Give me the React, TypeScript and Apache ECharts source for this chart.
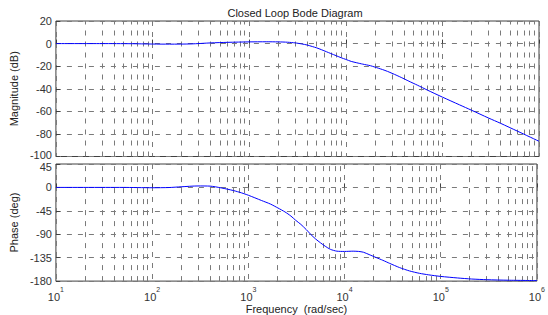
import React, { useEffect, useRef } from "react";
import * as echarts from "echarts";

const magFreq = [10, 30, 60, 100, 150, 250, 400, 600, 1000, 1500, 2000, 2500, 3000, 3500, 4000, 4500, 5000, 5600, 6300, 7000, 8000, 9000, 10000, 11400, 13000, 15000, 18000, 20000, 24000, 27000, 32000, 37500, 45000, 55000, 70000, 100000, 150000, 200000, 300000, 400000, 600000, 1000000];
const magDb = [0, 0, -0.1, -0.4, -0.5, -0.3, 0.6, 1.1, 1.5, 1.6, 1.5, 1.2, 0.6, -0.3, -1.3, -2.6, -3.8, -5.4, -7.2, -8.8, -10.8, -12.6, -14.0, -15.8, -17.0, -18.2, -19.6, -20.8, -23.0, -24.6, -27.3, -30.0, -33.3, -36.8, -41.2, -47.4, -54.2, -59.0, -65.9, -70.6, -77.6, -86.5];

const phFreq = [10, 50, 100, 150, 200, 300, 400, 525, 700, 850, 1000, 1365, 1700, 2030, 2400, 2770, 3100, 3515, 4000, 4440, 5000, 5630, 6300, 7140, 8330, 10000, 12300, 14000, 15700, 18000, 21500, 25000, 29500, 37300, 47400, 60000, 75000, 100000, 150000, 210000, 300000, 500000, 1000000];
const phDeg = [0, 0, -0.6, -0.2, 1.2, 2.8, 2.5, -1, -6, -10.5, -15, -25, -32, -39.5, -47, -55, -63, -71, -81, -90, -99, -106.5, -113, -119, -122.5, -123, -122.5, -123, -124.5, -129, -135, -140, -146, -154, -160.5, -165, -168, -171, -174, -176, -177.3, -178.3, -179];

const decades = [10, 100, 1000, 10000, 100000];
const minorMultipliers = [2, 3, 4, 5, 6, 7, 8, 9];

const FONT = "'Liberation Sans', Arial, Helvetica, sans-serif";
const GRID_COLOR = "#7a7a7a";
const DASH = [5, 6];

export default function App() {
  const ref = useRef<HTMLDivElement>(null);
  useEffect(() => {
    if (!ref.current) return;
    const chart = echarts.init(ref.current, undefined, { renderer: "svg" });
    const minorFreqs: number[] = [];
    decades.forEach((d) => minorMultipliers.forEach((m) => minorFreqs.push(d * m)));

    const markLine = {
      symbol: "none",
      silent: true,
      label: { show: false },
      lineStyle: { type: DASH, color: GRID_COLOR, width: 1 },
      data: minorFreqs.map((f) => ({ xAxis: f })),
      animation: false,
    };

    const xBase = {
      type: "log",
      logBase: 10,
      min: 10,
      max: 1000000,
      axisLine: { show: false },
      axisTick: { show: true, inside: true, length: 4, lineStyle: { color: "#404040" } },
      splitLine: { show: true, lineStyle: { type: DASH, color: GRID_COLOR, width: 1 } },
    };

    const labelStyle = { fontFamily: FONT, fontSize: 11, color: "#333" };

    const option: any = {
      animation: false,
      backgroundColor: "#ffffff",
      title: {
        text: "Closed Loop Bode Diagram",
        left: 295,
        top: 7,
        padding: 0,
        textAlign: "center",
        textStyle: { fontFamily: FONT, fontSize: 11, fontWeight: "normal", color: "#222" },
      },
      grid: [
        { left: 52, top: 21, width: 487, height: 135.5, show: true, borderColor: "#404040", borderWidth: 1, backgroundColor: "transparent" },
        { left: 52, top: 164, width: 487, height: 118, show: true, borderColor: "#404040", borderWidth: 1, backgroundColor: "transparent" },
      ],
      xAxis: [
        { ...xBase, gridIndex: 0, axisLabel: { show: false } },
        {
          ...xBase,
          gridIndex: 1,
          name: "Frequency  (rad/sec)",
          nameLocation: "middle",
          nameGap: 20,
          nameTextStyle: { fontFamily: FONT, fontSize: 11, color: "#222" },
          axisLabel: {
            show: true,
            margin: 5,
            formatter: (v: number) => `{b|10}{s|${Math.round(Math.log10(v))}}`,
            rich: {
              b: { fontFamily: FONT, fontSize: 11, color: "#333", lineHeight: 16, verticalAlign: "bottom" },
              s: { fontFamily: FONT, fontSize: 7, color: "#333", lineHeight: 16, verticalAlign: "top" },
            },
          },
        },
      ],
      yAxis: [
        {
          type: "value",
          gridIndex: 0,
          min: -100,
          max: 20,
          interval: 20,
          name: "Magnitude (dB)",
          nameLocation: "middle",
          nameRotate: 90,
          nameGap: 22,
          nameTextStyle: { fontFamily: FONT, fontSize: 11, color: "#222" },
          axisLine: { show: false },
          axisTick: { show: true, inside: true, length: 4, lineStyle: { color: "#404040" } },
          axisLabel: {
            ...labelStyle,
            margin: 4,
            formatter: (v: number) => (v === -100 ? `{lo|${v}}` : `${v}`),
            rich: { lo: { ...labelStyle, lineHeight: 10, padding: [0, 0, 4, 0] } },
          },
          splitLine: { show: true, lineStyle: { type: DASH, color: GRID_COLOR, width: 1 } },
        },
        {
          type: "value",
          gridIndex: 1,
          min: -180,
          max: 45,
          interval: 45,
          name: "Phase (deg)",
          nameLocation: "middle",
          nameRotate: 90,
          nameGap: 22,
          nameTextStyle: { fontFamily: FONT, fontSize: 11, color: "#222" },
          axisLine: { show: false },
          axisTick: { show: true, inside: true, length: 4, lineStyle: { color: "#404040" } },
          axisLabel: {
            ...labelStyle,
            margin: 4,
            formatter: (v: number) => (v === 45 ? `{hi|${v}}` : `${v}`),
            rich: { hi: { ...labelStyle, lineHeight: 10, padding: [5, 0, 0, 0] } },
          },
          splitLine: { show: true, lineStyle: { type: DASH, color: GRID_COLOR, width: 1 } },
        },
      ],
      series: [
        {
          type: "line",
          xAxisIndex: 0,
          yAxisIndex: 0,
          data: magFreq.map((f, i) => [f, magDb[i]]),
          showSymbol: false,
          smooth: 0.25,
          lineStyle: { color: "#0000ff", width: 1 },
          markLine,
          z: 5,
        },
        {
          type: "line",
          xAxisIndex: 1,
          yAxisIndex: 1,
          data: phFreq.map((f, i) => [f, phDeg[i]]),
          showSymbol: false,
          smooth: 0.25,
          lineStyle: { color: "#0000ff", width: 1 },
          markLine,
          z: 5,
        },
      ],
    };
    chart.setOption(option);
    return () => chart.dispose();
  }, []);
  return (
    <div
      ref={ref}
      style={{ position: "fixed", left: 0, top: 0, width: 548, height: 315, background: "#fff" }}
    />
  );
}
